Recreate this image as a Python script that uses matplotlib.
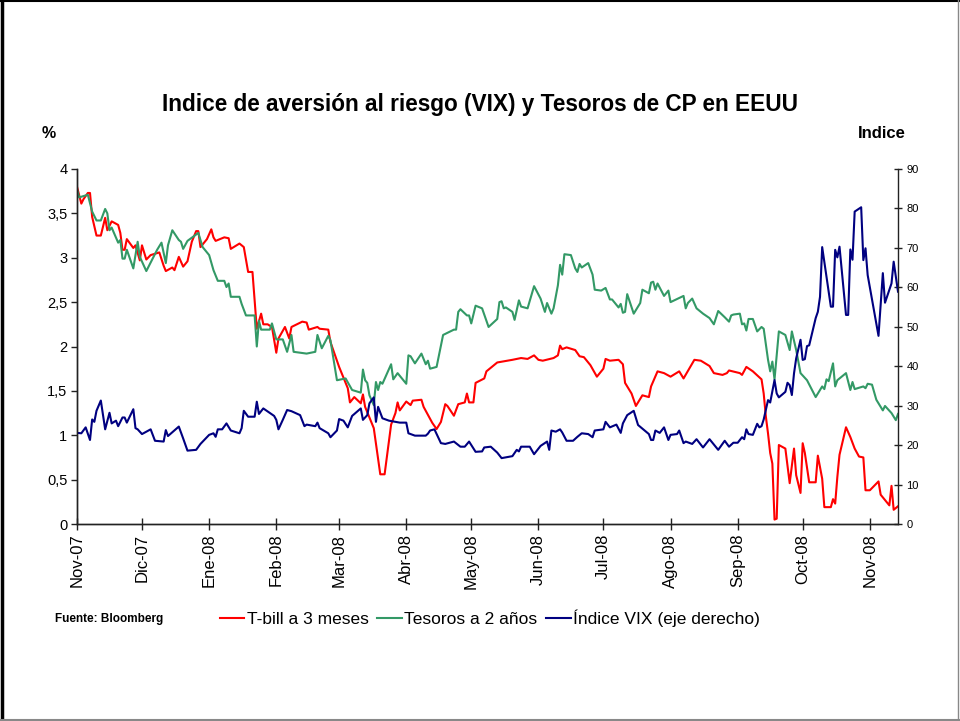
import matplotlib
matplotlib.use("Agg")
import matplotlib.pyplot as plt
import matplotlib.ticker as mticker
from matplotlib.lines import Line2D
import pandas as pd

plt.rcParams['font.family'] = ['Liberation Sans', 'DejaVu Sans']

# --- data (date, value) ---
tbill_pts = [
    ("2007-11-01", 3.80), ("2007-11-03", 3.61), ("2007-11-04", 3.66), ("2007-11-06", 3.73),
    ("2007-11-07", 3.73), ("2007-11-08", 3.46), ("2007-11-10", 3.25), ("2007-11-12", 3.25),
    ("2007-11-14", 3.45), ("2007-11-15", 3.31), ("2007-11-17", 3.41), ("2007-11-20", 3.37),
    ("2007-11-21", 3.28), ("2007-11-22", 3.09), ("2007-11-23", 3.09), ("2007-11-24", 3.21),
    ("2007-11-27", 3.11), ("2007-11-28", 3.14), ("2007-11-30", 2.97), ("2007-12-01", 3.14),
    ("2007-12-03", 2.98), ("2007-12-05", 3.03), ("2007-12-09", 3.06), ("2007-12-11", 2.91),
    ("2007-12-12", 2.85), ("2007-12-15", 2.89), ("2007-12-16", 2.86), ("2007-12-18", 3.01),
    ("2007-12-20", 2.90), ("2007-12-22", 2.96), ("2007-12-24", 3.18), ("2007-12-26", 3.30),
    ("2007-12-27", 3.30), ("2007-12-28", 3.12), ("2007-12-31", 3.21), ("2008-01-02", 3.32),
    ("2008-01-03", 3.23), ("2008-01-04", 3.19), ("2008-01-08", 3.23), ("2008-01-10", 3.22),
    ("2008-01-11", 3.10), ("2008-01-15", 3.16), ("2008-01-17", 3.12), ("2008-01-19", 2.84),
    ("2008-01-21", 2.84), ("2008-01-23", 2.20), ("2008-01-25", 2.37), ("2008-01-26", 2.25),
    ("2008-01-28", 2.25), ("2008-01-30", 2.22), ("2008-02-01", 1.93), ("2008-02-02", 2.09),
    ("2008-02-05", 2.22), ("2008-02-07", 2.09), ("2008-02-08", 2.22), ("2008-02-13", 2.28),
    ("2008-02-15", 2.27), ("2008-02-16", 2.19), ("2008-02-20", 2.22), ("2008-02-21", 2.20),
    ("2008-02-25", 2.19), ("2008-02-26", 2.05), ("2008-03-01", 1.77), ("2008-03-05", 1.53),
    ("2008-03-06", 1.37), ("2008-03-08", 1.43), ("2008-03-11", 1.36), ("2008-03-12", 1.46),
    ("2008-03-13", 1.32), ("2008-03-15", 1.20), ("2008-03-17", 1.08), ("2008-03-20", 0.56),
    ("2008-03-22", 0.56), ("2008-03-25", 1.12), ("2008-03-27", 1.25), ("2008-03-28", 1.37),
    ("2008-03-29", 1.28), ("2008-04-01", 1.38), ("2008-04-03", 1.34), ("2008-04-04", 1.39),
    ("2008-04-08", 1.40), ("2008-04-09", 1.32), ("2008-04-11", 1.23), ("2008-04-13", 1.14),
    ("2008-04-15", 1.07), ("2008-04-17", 1.15), ("2008-04-19", 1.35), ("2008-04-20", 1.33),
    ("2008-04-23", 1.22), ("2008-04-25", 1.35), ("2008-04-28", 1.37), ("2008-04-29", 1.47),
    ("2008-04-30", 1.37), ("2008-05-02", 1.37), ("2008-05-03", 1.59), ("2008-05-07", 1.64),
    ("2008-05-08", 1.72), ("2008-05-13", 1.82), ("2008-05-20", 1.85), ("2008-05-24", 1.87),
    ("2008-05-27", 1.86), ("2008-05-30", 1.90), ("2008-06-01", 1.85), ("2008-06-03", 1.84),
    ("2008-06-08", 1.87), ("2008-06-10", 1.90), ("2008-06-11", 2.01), ("2008-06-12", 1.97),
    ("2008-06-14", 1.99), ("2008-06-18", 1.96), ("2008-06-20", 1.89), ("2008-06-22", 1.88),
    ("2008-06-25", 1.79), ("2008-06-28", 1.66), ("2008-07-01", 1.75), ("2008-07-02", 1.86),
    ("2008-07-04", 1.84), ("2008-07-08", 1.85), ("2008-07-10", 1.80), ("2008-07-11", 1.59),
    ("2008-07-14", 1.47), ("2008-07-16", 1.33), ("2008-07-19", 1.45), ("2008-07-22", 1.43),
    ("2008-07-23", 1.55), ("2008-07-26", 1.72), ("2008-07-29", 1.70), ("2008-08-01", 1.66),
    ("2008-08-05", 1.72), ("2008-08-07", 1.64), ("2008-08-12", 1.85), ("2008-08-15", 1.84),
    ("2008-08-19", 1.78), ("2008-08-21", 1.70), ("2008-08-25", 1.68), ("2008-08-27", 1.70),
    ("2008-08-28", 1.73), ("2008-09-02", 1.70), ("2008-09-03", 1.68), ("2008-09-05", 1.77),
    ("2008-09-08", 1.72), ("2008-09-12", 1.63), ("2008-09-13", 1.47), ("2008-09-14", 1.21),
    ("2008-09-15", 1.02), ("2008-09-16", 0.80), ("2008-09-17", 0.68), ("2008-09-18", 0.05),
    ("2008-09-19", 0.06), ("2008-09-20", 0.89), ("2008-09-23", 0.85), ("2008-09-25", 0.46),
    ("2008-09-27", 0.85), ("2008-09-28", 0.55), ("2008-09-30", 0.35), ("2008-10-01", 0.91),
    ("2008-10-02", 0.80), ("2008-10-04", 0.47), ("2008-10-07", 0.47), ("2008-10-08", 0.77),
    ("2008-10-10", 0.51), ("2008-10-11", 0.19), ("2008-10-14", 0.19), ("2008-10-15", 0.28),
    ("2008-10-16", 0.23), ("2008-10-17", 0.53), ("2008-10-18", 0.78), ("2008-10-21", 1.09),
    ("2008-10-23", 0.98), ("2008-10-25", 0.85), ("2008-10-27", 0.76), ("2008-10-29", 0.75),
    ("2008-10-30", 0.38), ("2008-11-01", 0.38), ("2008-11-05", 0.48), ("2008-11-06", 0.33),
    ("2008-11-10", 0.21), ("2008-11-11", 0.43), ("2008-11-12", 0.16), ("2008-11-14", 0.20),
]

tesoro2_pts = [
    ("2007-11-01", 3.77), ("2007-11-02", 3.68), ("2007-11-06", 3.71), ("2007-11-08", 3.52),
    ("2007-11-10", 3.42), ("2007-11-12", 3.42), ("2007-11-14", 3.55), ("2007-11-15", 3.50),
    ("2007-11-16", 3.31), ("2007-11-17", 3.34), ("2007-11-20", 3.17), ("2007-11-21", 3.20),
    ("2007-11-22", 2.99), ("2007-11-23", 2.99), ("2007-11-24", 3.09), ("2007-11-27", 2.88),
    ("2007-11-29", 3.18), ("2007-11-30", 3.01), ("2007-12-03", 2.85), ("2007-12-08", 3.09),
    ("2007-12-10", 3.17), ("2007-12-12", 2.94), ("2007-12-13", 3.14), ("2007-12-15", 3.31),
    ("2007-12-18", 3.20), ("2007-12-19", 3.18), ("2007-12-20", 3.10), ("2007-12-22", 3.19),
    ("2007-12-27", 3.28), ("2007-12-29", 3.12), ("2008-01-01", 3.03), ("2008-01-03", 2.86),
    ("2008-01-05", 2.74), ("2008-01-08", 2.74), ("2008-01-09", 2.67), ("2008-01-10", 2.71),
    ("2008-01-11", 2.56), ("2008-01-15", 2.56), ("2008-01-16", 2.48), ("2008-01-18", 2.35),
    ("2008-01-22", 2.35), ("2008-01-23", 2.00), ("2008-01-24", 2.29), ("2008-01-25", 2.19),
    ("2008-01-29", 2.19), ("2008-01-30", 2.26), ("2008-02-01", 2.08), ("2008-02-04", 2.08),
    ("2008-02-06", 1.94), ("2008-02-08", 2.13), ("2008-02-09", 1.94), ("2008-02-15", 1.92),
    ("2008-02-19", 1.94), ("2008-02-20", 2.13), ("2008-02-22", 1.98), ("2008-02-25", 2.12),
    ("2008-02-26", 2.07), ("2008-02-29", 1.62), ("2008-03-04", 1.64), ("2008-03-07", 1.51),
    ("2008-03-11", 1.48), ("2008-03-12", 1.74), ("2008-03-13", 1.62), ("2008-03-14", 1.59),
    ("2008-03-15", 1.45), ("2008-03-17", 1.34), ("2008-03-18", 1.60), ("2008-03-19", 1.51),
    ("2008-03-20", 1.60), ("2008-03-21", 1.58), ("2008-03-25", 1.80), ("2008-03-26", 1.63),
    ("2008-03-28", 1.70), ("2008-04-01", 1.58), ("2008-04-02", 1.90), ("2008-04-03", 1.89),
    ("2008-04-05", 1.81), ("2008-04-08", 1.92), ("2008-04-10", 1.80), ("2008-04-11", 1.84),
    ("2008-04-12", 1.75), ("2008-04-15", 1.77), ("2008-04-18", 2.13), ("2008-04-23", 2.19),
    ("2008-04-24", 2.19), ("2008-04-25", 2.39), ("2008-04-26", 2.42), ("2008-04-29", 2.35),
    ("2008-04-30", 2.35), ("2008-05-01", 2.26), ("2008-05-03", 2.46), ("2008-05-06", 2.43),
    ("2008-05-09", 2.22), ("2008-05-13", 2.31), ("2008-05-14", 2.50), ("2008-05-15", 2.51),
    ("2008-05-16", 2.43), ("2008-05-17", 2.44), ("2008-05-20", 2.39), ("2008-05-21", 2.30),
    ("2008-05-23", 2.52), ("2008-05-24", 2.45), ("2008-05-27", 2.43), ("2008-05-30", 2.68),
    ("2008-06-02", 2.54), ("2008-06-04", 2.39), ("2008-06-05", 2.49), ("2008-06-07", 2.37),
    ("2008-06-08", 2.43), ("2008-06-10", 2.69), ("2008-06-11", 2.92), ("2008-06-12", 2.81),
    ("2008-06-13", 3.04), ("2008-06-16", 3.03), ("2008-06-18", 2.88), ("2008-06-19", 2.84),
    ("2008-06-20", 2.93), ("2008-06-21", 2.89), ("2008-06-24", 2.94), ("2008-06-26", 2.81),
    ("2008-06-27", 2.64), ("2008-06-30", 2.63), ("2008-07-02", 2.66), ("2008-07-04", 2.53),
    ("2008-07-05", 2.53), ("2008-07-08", 2.44), ("2008-07-09", 2.48), ("2008-07-10", 2.38),
    ("2008-07-11", 2.39), ("2008-07-12", 2.59), ("2008-07-15", 2.37), ("2008-07-18", 2.49),
    ("2008-07-19", 2.64), ("2008-07-22", 2.60), ("2008-07-23", 2.72), ("2008-07-24", 2.73),
    ("2008-07-25", 2.64), ("2008-07-26", 2.71), ("2008-07-29", 2.57), ("2008-07-31", 2.63),
    ("2008-08-01", 2.50), ("2008-08-07", 2.57), ("2008-08-08", 2.43), ("2008-08-09", 2.49),
    ("2008-08-11", 2.54), ("2008-08-13", 2.43), ("2008-08-16", 2.37), ("2008-08-19", 2.32),
    ("2008-08-21", 2.25), ("2008-08-23", 2.40), ("2008-08-26", 2.33), ("2008-08-28", 2.28),
    ("2008-08-29", 2.35), ("2008-08-30", 2.36), ("2008-09-02", 2.37), ("2008-09-03", 2.25),
    ("2008-09-04", 2.26), ("2008-09-05", 2.18), ("2008-09-06", 2.31), ("2008-09-08", 2.31),
    ("2008-09-10", 2.17), ("2008-09-12", 2.22), ("2008-09-13", 2.20), ("2008-09-15", 1.85),
    ("2008-09-16", 1.72), ("2008-09-17", 1.83), ("2008-09-18", 1.63), ("2008-09-20", 2.17),
    ("2008-09-23", 2.13), ("2008-09-25", 1.96), ("2008-09-26", 2.17), ("2008-09-28", 1.96),
    ("2008-09-30", 1.70), ("2008-10-03", 1.62), ("2008-10-07", 1.43), ("2008-10-10", 1.55),
    ("2008-10-11", 1.52), ("2008-10-12", 1.63), ("2008-10-13", 1.61), ("2008-10-15", 1.81),
    ("2008-10-16", 1.55), ("2008-10-17", 1.62), ("2008-10-21", 1.70), ("2008-10-23", 1.51),
    ("2008-10-24", 1.60), ("2008-10-25", 1.52), ("2008-10-29", 1.55), ("2008-10-30", 1.53),
    ("2008-10-31", 1.58), ("2008-11-02", 1.57), ("2008-11-04", 1.40), ("2008-11-07", 1.28),
    ("2008-11-08", 1.33), ("2008-11-11", 1.25), ("2008-11-13", 1.17), ("2008-11-14", 1.24),
]

vix_pts = [
    ("2007-11-01", 23.1), ("2007-11-03", 23.0), ("2007-11-05", 24.5), ("2007-11-07", 21.3),
    ("2007-11-08", 26.5), ("2007-11-09", 25.9), ("2007-11-10", 28.7), ("2007-11-12", 31.3),
    ("2007-11-14", 24.0), ("2007-11-16", 28.2), ("2007-11-17", 25.5), ("2007-11-19", 26.2),
    ("2007-11-20", 24.8), ("2007-11-22", 27.0), ("2007-11-23", 27.0), ("2007-11-24", 25.7),
    ("2007-11-27", 29.1), ("2007-11-28", 24.3), ("2007-11-29", 24.0), ("2007-12-01", 22.8),
    ("2007-12-05", 24.0), ("2007-12-07", 21.1), ("2007-12-11", 20.9), ("2007-12-12", 23.8),
    ("2007-12-13", 22.3), ("2007-12-18", 24.7), ("2007-12-20", 21.7), ("2007-12-22", 18.6),
    ("2007-12-26", 18.8), ("2007-12-28", 20.3), ("2008-01-01", 22.6), ("2008-01-03", 23.0),
    ("2008-01-04", 22.1), ("2008-01-05", 24.0), ("2008-01-07", 24.0), ("2008-01-09", 25.5),
    ("2008-01-11", 23.7), ("2008-01-15", 23.0), ("2008-01-16", 24.3), ("2008-01-17", 28.7),
    ("2008-01-19", 27.2), ("2008-01-22", 27.2), ("2008-01-23", 31.0), ("2008-01-24", 27.9),
    ("2008-01-26", 29.3), ("2008-01-31", 27.4), ("2008-02-01", 26.4), ("2008-02-02", 24.0),
    ("2008-02-04", 26.4), ("2008-02-06", 28.9), ("2008-02-08", 28.6), ("2008-02-12", 27.6),
    ("2008-02-14", 24.8), ("2008-02-15", 25.2), ("2008-02-19", 24.8), ("2008-02-20", 25.7),
    ("2008-02-21", 24.3), ("2008-02-25", 23.0), ("2008-02-26", 22.0), ("2008-02-29", 23.7),
    ("2008-03-01", 26.6), ("2008-03-03", 26.2), ("2008-03-05", 24.5), ("2008-03-07", 27.4),
    ("2008-03-11", 29.3), ("2008-03-12", 26.4), ("2008-03-14", 27.6), ("2008-03-15", 30.6),
    ("2008-03-17", 32.1), ("2008-03-18", 25.9), ("2008-03-19", 29.7), ("2008-03-21", 26.8),
    ("2008-03-24", 26.2), ("2008-03-29", 25.7), ("2008-04-01", 25.7), ("2008-04-02", 23.0),
    ("2008-04-05", 22.4), ("2008-04-10", 22.4), ("2008-04-11", 22.9), ("2008-04-12", 23.7),
    ("2008-04-14", 24.0), ("2008-04-17", 20.5), ("2008-04-19", 20.3), ("2008-04-23", 20.9),
    ("2008-04-26", 19.6), ("2008-04-28", 19.6), ("2008-04-30", 20.9), ("2008-05-03", 18.3),
    ("2008-05-06", 18.4), ("2008-05-07", 19.4), ("2008-05-10", 19.6), ("2008-05-13", 18.1),
    ("2008-05-15", 16.7), ("2008-05-20", 17.2), ("2008-05-22", 18.8), ("2008-05-23", 18.4),
    ("2008-05-24", 19.6), ("2008-05-28", 19.6), ("2008-05-30", 17.7), ("2008-06-02", 19.8),
    ("2008-06-05", 20.9), ("2008-06-06", 18.8), ("2008-06-07", 23.7), ("2008-06-09", 23.4),
    ("2008-06-11", 24.0), ("2008-06-12", 23.2), ("2008-06-14", 21.1), ("2008-06-17", 21.1),
    ("2008-06-19", 22.1), ("2008-06-21", 23.0), ("2008-06-24", 22.8), ("2008-06-26", 22.0),
    ("2008-06-27", 23.7), ("2008-07-01", 24.0), ("2008-07-02", 25.9), ("2008-07-04", 24.5),
    ("2008-07-07", 25.2), ("2008-07-09", 23.1), ("2008-07-10", 25.5), ("2008-07-12", 27.6),
    ("2008-07-15", 28.7), ("2008-07-17", 25.1), ("2008-07-22", 22.8), ("2008-07-23", 21.3),
    ("2008-07-24", 21.3), ("2008-07-25", 23.7), ("2008-07-27", 23.1), ("2008-07-29", 24.5),
    ("2008-07-31", 21.3), ("2008-08-01", 22.6), ("2008-08-04", 22.8), ("2008-08-05", 23.7),
    ("2008-08-07", 20.5), ("2008-08-08", 20.9), ("2008-08-11", 20.3), ("2008-08-13", 21.5),
    ("2008-08-16", 19.4), ("2008-08-19", 21.5), ("2008-08-23", 18.8), ("2008-08-26", 21.1),
    ("2008-08-28", 19.6), ("2008-08-30", 20.6), ("2008-09-01", 20.6), ("2008-09-03", 22.0),
    ("2008-09-04", 21.5), ("2008-09-05", 24.0), ("2008-09-06", 22.8), ("2008-09-08", 22.6),
    ("2008-09-10", 25.4), ("2008-09-11", 24.5), ("2008-09-12", 24.8), ("2008-09-13", 26.5),
    ("2008-09-14", 28.9), ("2008-09-15", 31.4), ("2008-09-16", 30.8), ("2008-09-18", 36.5),
    ("2008-09-19", 33.1), ("2008-09-20", 32.1), ("2008-09-23", 33.5), ("2008-09-24", 35.8),
    ("2008-09-25", 35.2), ("2008-09-26", 32.7), ("2008-09-27", 38.2), ("2008-09-28", 42.0),
    ("2008-09-30", 46.7), ("2008-10-01", 41.6), ("2008-10-02", 41.8), ("2008-10-03", 45.1),
    ("2008-10-04", 45.3), ("2008-10-07", 52.2), ("2008-10-08", 53.8), ("2008-10-09", 57.6),
    ("2008-10-10", 70.2), ("2008-10-14", 55.1), ("2008-10-15", 55.1), ("2008-10-16", 69.5),
    ("2008-10-17", 67.6), ("2008-10-18", 70.3), ("2008-10-21", 53.0), ("2008-10-22", 53.0),
    ("2008-10-23", 69.6), ("2008-10-24", 67.0), ("2008-10-25", 79.2), ("2008-10-28", 80.3),
    ("2008-10-29", 66.9), ("2008-10-30", 69.9), ("2008-10-31", 63.1), ("2008-11-03", 53.8),
    ("2008-11-05", 47.7), ("2008-11-07", 63.6), ("2008-11-08", 56.1), ("2008-11-11", 61.0),
    ("2008-11-12", 66.5), ("2008-11-14", 58.9),
]

month_ticks = ["2007-11-01", "2007-12-01", "2008-01-01", "2008-02-01", "2008-03-01",
               "2008-04-01", "2008-05-01", "2008-06-01", "2008-07-01", "2008-08-01",
               "2008-09-01", "2008-10-01", "2008-11-01"]
month_labels = ["Nov-07", "Dic-07", "Ene-08", "Feb-08", "Mar-08", "Abr-08", "May-08",
                "Jun-08", "Jul-08", "Ago-08", "Sep-08", "Oct-08", "Nov-08"]

labels = ["T-bill a 3 meses", "Tesoros a 2 años", "Índice VIX (eje derecho)"]
colors = ["#FF0000", "#339966", "#000080"]


def split(pts):
    d, v = zip(*pts)
    return pd.to_datetime(list(d)), list(v)


fig = plt.figure(figsize=(9.6, 7.21), dpi=100)
W, H = 960, 721
ax = fig.add_axes([77 / W, 1 - 524 / H, 821 / W, 355 / H])
ax2 = ax.twinx()

x, y = split(tbill_pts)
ax.plot(x, y, color=colors[0], lw=1.5)
x, y = split(tesoro2_pts)
ax.plot(x, y, color=colors[1], lw=1.5)
x, y = split(vix_pts)
ax2.plot(x, y, color=colors[2], lw=1.5)

ax.set_xlim(pd.Timestamp("2007-11-01"), pd.Timestamp("2008-11-14"))
ax.set_ylim(0, 4)
ax2.set_ylim(0, 90)
ax.set_yticks([i * 0.5 for i in range(9)])
ax.yaxis.set_major_formatter(mticker.FuncFormatter(lambda v, p: f"{v:g}".replace(".", ",")))
ax2.set_yticks(range(0, 91, 10))

ax.set_xticks(pd.to_datetime(month_ticks))
ax.set_xticklabels(month_labels, rotation=90, fontsize=12)

for a in (ax, ax2):
    a.spines['top'].set_visible(False)
    for s in a.spines.values():
        s.set_linewidth(1.0)
        s.set_color('#222222')
ax.spines['right'].set_visible(False)

ax.tick_params(axis='x', direction='inout', length=8, width=1, pad=3, color='#222222')
ax.tick_params(axis='y', direction='out', length=4, width=1, pad=3, labelsize=10.5, color='#222222')
ax2.tick_params(axis='y', direction='inout', length=6, width=1, pad=3, labelsize=8, color='#222222')

# titles and side labels
fig.text(480 / W, 1 - 104 / H, "Indice de aversión al riesgo (VIX) y Tesoros de CP en EEUU",
         ha='center', va='center', fontsize=16.3, fontweight='bold')
fig.text(42 / W, 1 - 133 / H, "%", ha='left', va='center', fontsize=11.5, fontweight='bold')
fig.text(858 / W, 1 - 133 / H, "Indice", ha='left', va='center', fontsize=12, fontweight='bold')
fig.text(55 / W, 1 - 619 / H, "Fuente: Bloomberg", ha='left', va='center', fontsize=8.5,
         fontweight='bold')

handles = [Line2D([], [], color=c, lw=1.5) for c in colors]
fig.legend(handles, labels, loc='center', bbox_to_anchor=(490 / W, 1 - 618 / H), ncol=3,
           frameon=False, fontsize=12.5, handlelength=1.4, handletextpad=0.15,
           columnspacing=0.5, borderpad=0)

# outer frame
fig.add_artist(Line2D([0.002, 0.002], [0, 1], color='black', lw=2.5, transform=fig.transFigure))
fig.add_artist(Line2D([0, 1], [0.998, 0.998], color='black', lw=1.5, transform=fig.transFigure))
fig.add_artist(Line2D([0, 1], [0.002, 0.002], color='#888888', lw=1.5, transform=fig.transFigure))
fig.add_artist(Line2D([0.998, 0.998], [0, 1], color='#888888', lw=1.0, transform=fig.transFigure))

fig.savefig("out.png", dpi=100)
